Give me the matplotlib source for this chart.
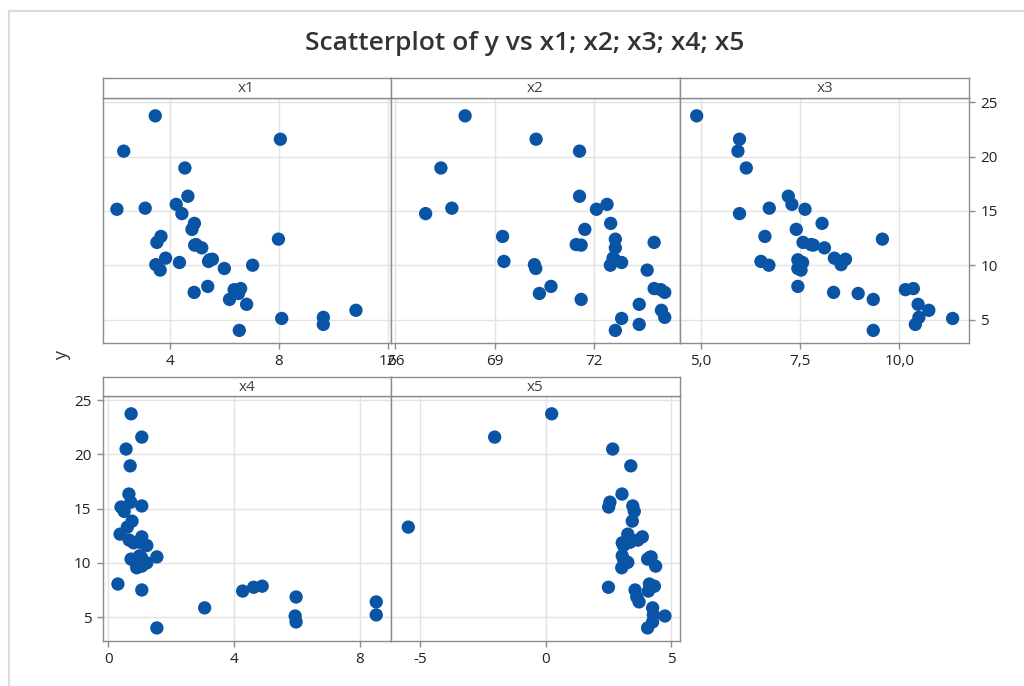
import matplotlib
matplotlib.use("Agg")
import matplotlib.pyplot as plt
from matplotlib.lines import Line2D

plt.rcParams['font.family'] = ['Open Sans', 'DejaVu Sans']

# ---- data ----
y = [23.75, 21.6, 20.5, 18.95, 16.35, 15.6, 15.25, 15.15, 14.75, 13.85,
     13.3, 12.65, 12.4, 12.1, 11.9, 11.85, 11.6, 10.65, 10.55, 10.5,
     10.35, 10.25, 10.05, 10.0, 9.7, 9.55, 8.05, 7.85, 7.75, 7.5,
     7.4, 6.85, 6.4, 5.85, 5.2, 5.1, 4.55, 4.0]

x1 = [3.45, 8.05, 2.29, 4.54, 4.65, 4.22, 3.08, 2.04, 4.43, 4.89,
      4.80, 3.66, 7.98, 3.51, 4.95, 4.90, 5.16, 3.83, 5.55, 5.45,
      5.41, 4.34, 3.47, 7.03, 5.99, 3.63, 5.38, 6.59, 6.35, 4.88,
      6.51, 6.18, 6.81, 10.83, 9.63, 8.10, 9.63, 6.54]

x2 = [68.10, 70.24, 71.55, 67.37, 71.55, 72.38, 67.70, 72.06, 66.91, 72.49,
      71.71, 69.23, 72.63, 73.80, 71.45, 71.60, 72.63, 72.56, 72.60, 72.58,
      69.27, 72.82, 70.19, 72.48, 70.23, 73.59, 70.69, 73.80, 74.00, 74.12,
      70.34, 71.60, 73.35, 74.02, 74.12, 72.82, 73.35, 72.63]

x3 = [4.89, 5.97, 5.93, 6.14, 7.20, 7.29, 6.72, 7.62, 5.97, 8.05,
      7.40, 6.61, 9.57, 7.57, 7.77, 7.83, 8.11, 8.36, 8.64, 7.44,
      6.51, 7.56, 8.53, 6.71, 7.44, 7.52, 7.44, 10.35, 10.15, 8.34,
      8.96, 9.34, 10.47, 10.74, 10.49, 11.34, 10.40, 9.34]

x4 = [0.72, 1.06, 0.56, 0.69, 0.65, 0.71, 1.06, 0.40, 0.50, 0.75,
      0.60, 0.37, 1.06, 0.66, 1.01, 0.80, 1.22, 0.99, 1.54, 1.05,
      0.72, 0.95, 0.86, 1.22, 1.06, 0.90, 0.30, 4.89, 4.62, 1.06,
      4.27, 5.97, 8.52, 3.06, 8.52, 5.94, 5.97, 1.54]

x5 = [0.24, -2.03, 2.67, 3.39, 3.04, 2.56, 3.47, 2.51, 3.53, 3.45,
      -5.47, 3.27, 3.85, 3.67, 3.36, 3.05, 3.10, 3.05, 4.20, 4.15,
      4.06, 3.11, 3.27, 3.20, 4.38, 3.03, 4.13, 4.33, 2.50, 3.56,
      4.09, 3.63, 3.72, 4.26, 4.29, 4.75, 4.26, 4.06]

panel_names = ["x1", "x2", "x3", "x4", "x5"]
xs = [x1, x2, x3, x4, x5]
xticks = [[4, 8, 12], [66, 69, 72], [5.0, 7.5, 10.0], [0, 4, 8], [-5, 0, 5]]
xticklabels = [["4", "8", "12"], ["66", "69", "72"], ["5,0", "7,5", "10,0"],
               ["0", "4", "8"], ["-5", "0", "5"]]
xlims = [(1.51, 12.1), (65.85, 74.58), (4.47, 11.76), (-0.19, 8.98), (-6.17, 5.35)]
yticks = [5, 10, 15, 20, 25]
ylim = (2.84, 25.42)

W, H = 1024, 686
fig = plt.figure(figsize=(W / 100, H / 100), dpi=100)

# panel pixel boxes: (left, right, header_top, plot_top, plot_bottom)
boxes = [
    (102.5, 390.5, 78.3, 97.7, 343.0),
    (390.5, 680.0, 78.3, 97.7, 343.0),
    (680.0, 969.3, 78.3, 97.7, 343.0),
    (102.5, 390.7, 376.7, 395.7, 640.5),
    (390.7, 680.0, 376.7, 395.7, 640.5),
]

spine_col = "#8c8c8c"
grid_col = "#e3e3e3"
pt_col = "#0a54a6"
text_col = "#222222"

def fr(l, r, t, b):
    return [l / W, 1 - b / H, (r - l) / W, (b - t) / H]

for i, (l, r, ht, pt, pb) in enumerate(boxes):
    ax = fig.add_axes(fr(l, r, pt, pb))
    ax.set_xlim(*xlims[i])
    ax.set_ylim(*ylim)
    ax.set_xticks(xticks[i])
    ax.set_xticklabels(xticklabels[i])
    ax.set_yticks(yticks)
    ax.grid(True, color=grid_col, linewidth=1.0, zorder=0)
    ax.set_axisbelow(True)
    ax.scatter(xs[i], y, s=92, color=pt_col, edgecolors='none', zorder=3, clip_on=False)
    for sp in ax.spines.values():
        sp.set_color(spine_col)
        sp.set_linewidth(1.0)
    ax.tick_params(axis='x', colors=spine_col, labelcolor=text_col, labelsize=11,
                   length=4, width=1, pad=4)
    if i == 2:
        ax.yaxis.tick_right()
        ax.tick_params(axis='y', colors=spine_col, labelcolor=text_col, labelsize=11,
                       length=4, width=1, pad=4, right=True, left=False)
    elif i == 3:
        ax.tick_params(axis='y', colors=spine_col, labelcolor=text_col, labelsize=11,
                       length=4, width=1, pad=4)
    else:
        ax.tick_params(axis='y', left=False, right=False, labelleft=False, labelright=False)

    # header strip
    hx = fig.add_axes(fr(l, r, ht, pt))
    hx.set_xticks([])
    hx.set_yticks([])
    hx.set_facecolor("white")
    for sp in hx.spines.values():
        sp.set_color(spine_col)
        sp.set_linewidth(1.0)
    hx.text(0.5, 0.45, panel_names[i], ha='center', va='center', fontsize=11,
            color="#404040", transform=hx.transAxes)

fig.text(525 / W, 1 - 44 / H, "Scatterplot of y vs x1; x2; x3; x4; x5",
         ha='center', va='center', fontsize=19, fontweight='semibold', color="#333333")
fig.text(62 / W, 1 - 356 / H, "y", ha='center', va='center', rotation=90,
         fontsize=13, color="#333333")

# faint outer frame (top and left edges)
fig.add_artist(Line2D([8.5 / W, 1.0], [1 - 10.5 / H, 1 - 10.5 / H],
                      transform=fig.transFigure, color="#dcdcdc", linewidth=1.5))
fig.add_artist(Line2D([8.5 / W, 8.5 / W], [1 - 10.5 / H, 0.0],
                      transform=fig.transFigure, color="#dcdcdc", linewidth=1.5))

fig.savefig("out.png", dpi=100, facecolor="white")
